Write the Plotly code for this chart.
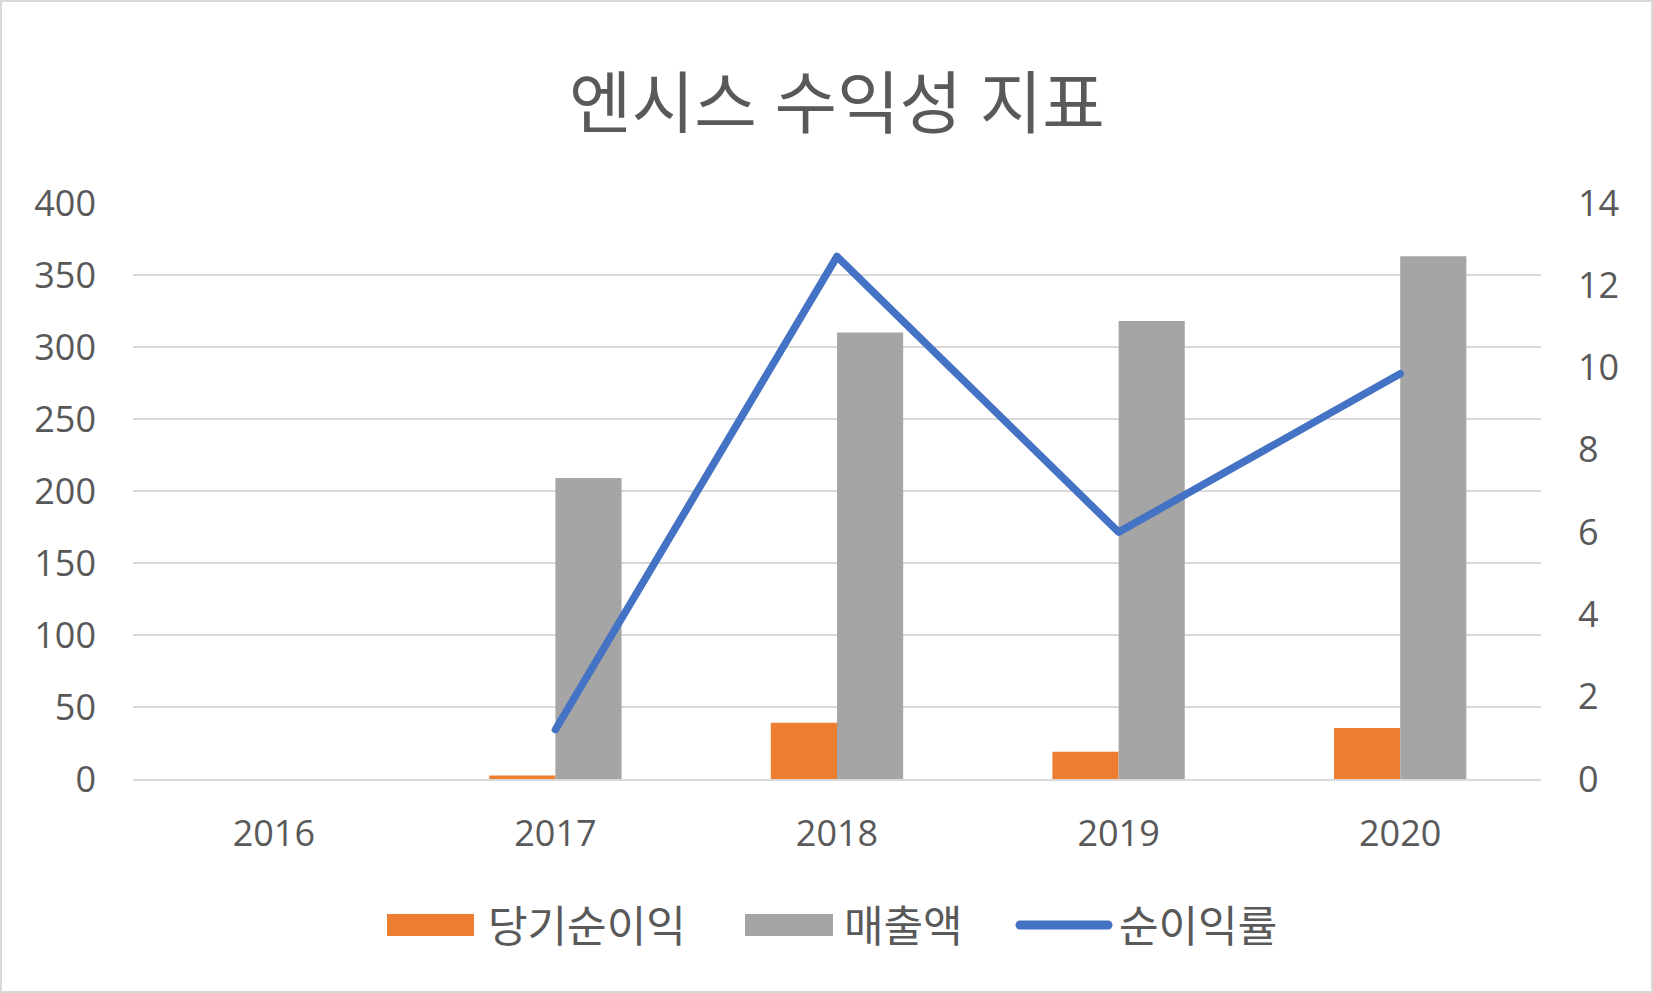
import plotly.graph_objects as go

years = ["2016", "2017", "2018", "2019", "2020"]
net_income = [None, 2.5, 39, 19, 35.5]
sales = [None, 209, 310, 318, 363]
net_margin = [None, 1.2, 12.7, 6.0, 9.85]

left_ticks = list(range(0, 401, 50))
right_ticks = list(range(0, 15, 2))

ORANGE = "#ED7D31"
GRAY = "#A5A5A5"
BLUE = "#4472C4"
TEXT = "#595959"
GRID = "#D9D9D9"
FONT = "Open Sans, Noto Sans CJK KR, sans-serif"

W, H = 1653, 993
L, R, T, B = 133, 112, 203, 214
PW, PH = W - L - R, H - T - B

def px(x):
    return (x - L) / PW

def py(y):
    return (H - B - y) / PH

fig = go.Figure()
fig.add_trace(go.Bar(x=years, y=net_income, name="당기순이익", marker_color=ORANGE,
                     marker_line_width=0, yaxis="y", showlegend=False))
fig.add_trace(go.Bar(x=years, y=sales, name="매출액", marker_color=GRAY,
                     marker_line_width=0, yaxis="y", showlegend=False))
fig.add_trace(go.Scatter(x=years, y=net_margin, name="순이익률", mode="lines",
                         line=dict(color=BLUE, width=7.5), yaxis="y2",
                         connectgaps=False, showlegend=False))

shapes = [
    # chart frame
    dict(type="rect", xref="paper", yref="paper",
         x0=px(1), x1=px(W - 1), y0=py(H - 1), y1=py(1),
         line=dict(color=GRID, width=2), fillcolor="rgba(0,0,0,0)", layer="below"),
    # legend swatches
    dict(type="rect", xref="paper", yref="paper",
         x0=px(387), x1=px(474), y0=py(936), y1=py(914),
         line=dict(width=0), fillcolor=ORANGE),
    dict(type="rect", xref="paper", yref="paper",
         x0=px(745), x1=px(833), y0=py(936), y1=py(914),
         line=dict(width=0), fillcolor=GRAY),
    dict(type="line", xref="paper", yref="paper",
         x0=px(1020), x1=px(1108), y0=py(925), y1=py(925),
         line=dict(color=BLUE, width=9)),
]

annotations = []
for label, xpos in [("당기순이익", 486), ("매출액", 842), ("순이익률", 1117)]:
    annotations.append(dict(text=label, xref="paper", yref="paper",
                            x=px(xpos), y=py(925), xanchor="left", yanchor="middle",
                            showarrow=False, font=dict(size=43, color=TEXT, family=FONT)))

fig.update_layout(
    width=W, height=H,
    margin=dict(l=L, r=R, t=T, b=B, pad=0),
    paper_bgcolor="white", plot_bgcolor="white",
    title=dict(text="엔시스 수익성 지표", x=0.5, xref="paper", y=1 - 104 / H, yanchor="middle",
               font=dict(size=68, color=TEXT, family=FONT)),
    barmode="group", bargap=0.53, bargroupgap=0,
    font=dict(family=FONT, color=TEXT, size=36),
    xaxis=dict(type="category", showgrid=False, showline=True, linecolor=GRID, linewidth=2,
               ticks="", tickfont=dict(size=36, color=TEXT), ticklabelstandoff=22),
    yaxis=dict(range=[0, 400], tickvals=left_ticks, showgrid=True, gridcolor=GRID, gridwidth=2,
               zeroline=False, showline=False, ticks="",
               tickfont=dict(size=36, color=TEXT), ticklabelstandoff=36),
    yaxis2=dict(range=[0, 14], tickvals=right_ticks, overlaying="y", side="right",
                showgrid=False, zeroline=False, showline=False, ticks="",
                tickfont=dict(size=36, color=TEXT), ticklabelstandoff=36),
    shapes=shapes, annotations=annotations, showlegend=False,
)

post = (
    "document.body.style.margin='0';"
    "document.querySelectorAll('.js-line').forEach(function(p){p.style.strokeLinejoin='round';p.style.strokeLinecap='round';});"
    "document.querySelectorAll('.shapelayer path').forEach(function(p){if(p.style.strokeWidth==='9px'){p.style.strokeLinecap='round';}});"
)
fig.write_html("out.html", config={"displayModeBar": False}, post_script=post)
